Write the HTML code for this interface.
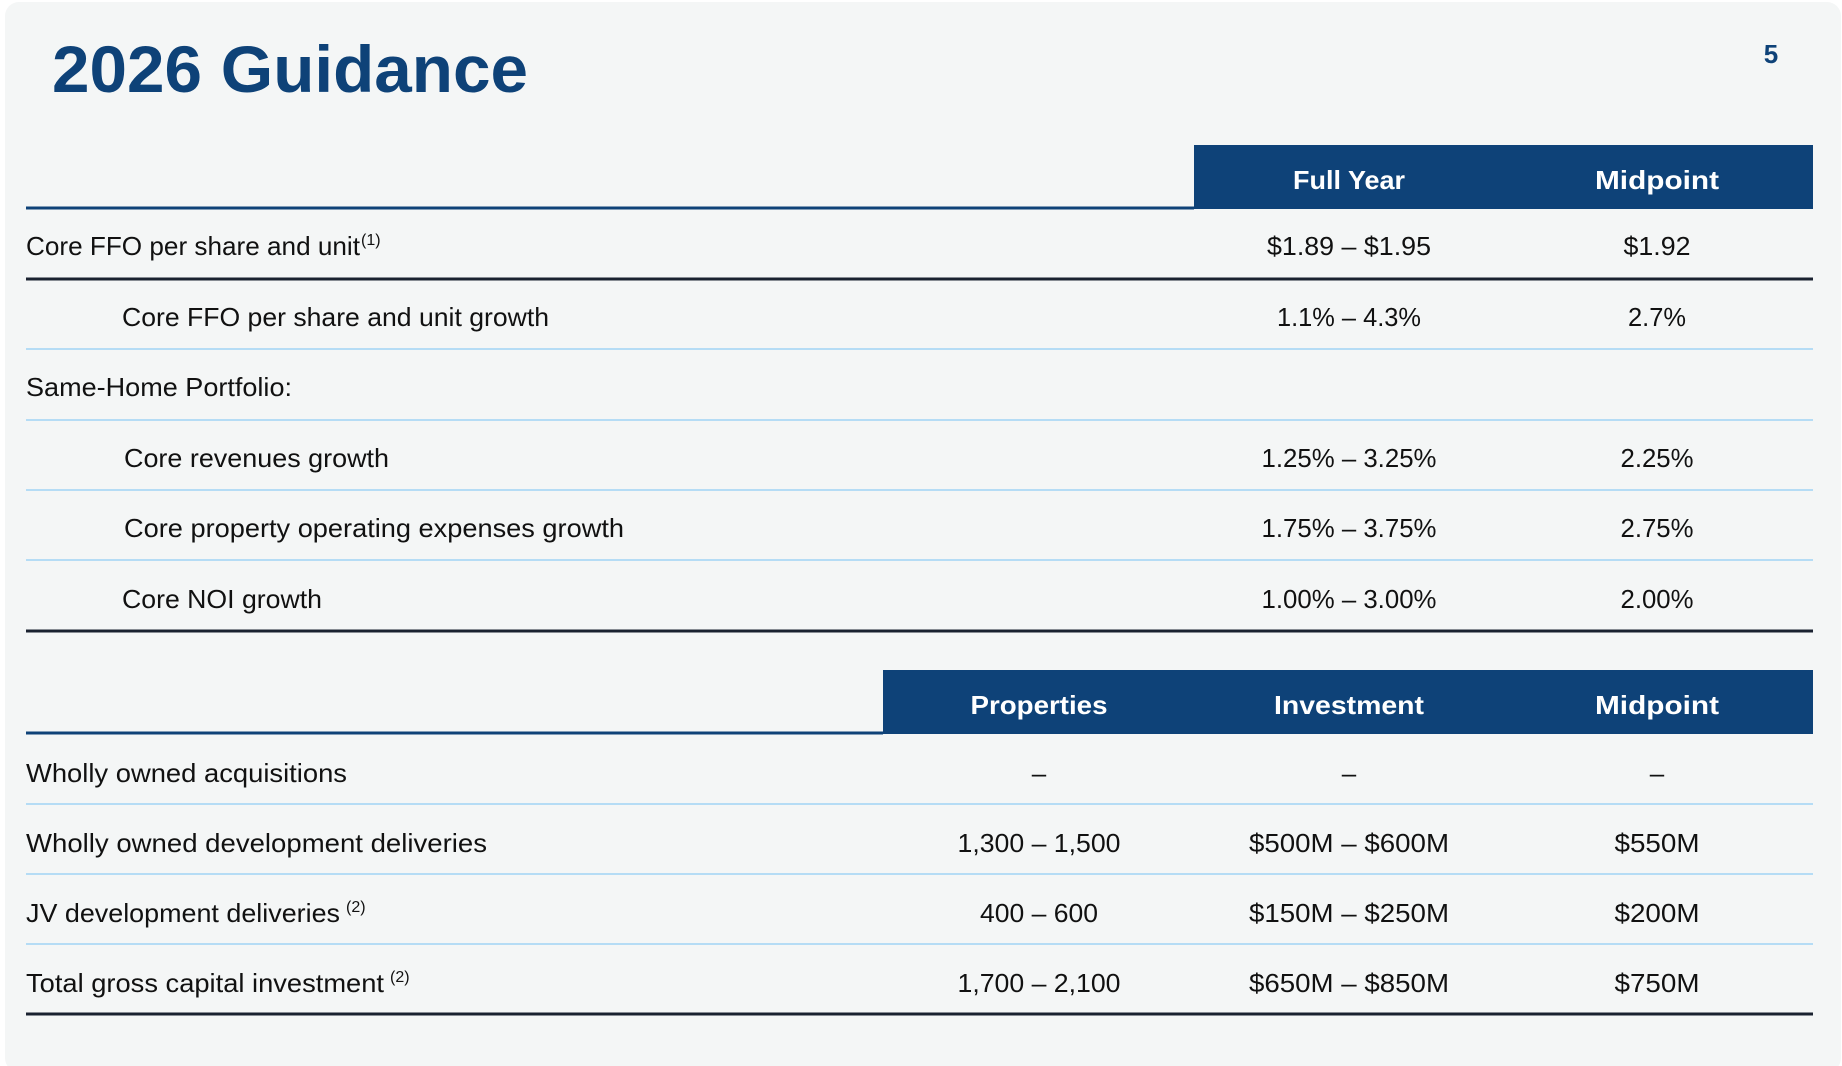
<!DOCTYPE html>
<html><head><meta charset="utf-8"><style>
html,body{margin:0;padding:0;background:#fff;}
svg{display:block;font-family:"Liberation Sans",sans-serif;}
</style></head><body>
<svg width="1842" height="1066" viewBox="0 0 1842 1066">
<rect x="5" y="2" width="1836" height="1070" rx="14" fill="#f4f6f6"/>
<text x="52" y="92" font-size="66" font-weight="bold" fill="#0e4278" textLength="476" lengthAdjust="spacingAndGlyphs">2026 Guidance</text>
<text x="1771" y="63" font-size="26" font-weight="bold" fill="#0e4278" text-anchor="middle">5</text>

<g>
<rect x="1194" y="145" width="619" height="64" fill="#0e4278"/>
<text x="1349" y="189" font-size="26" font-weight="bold" fill="#fff" text-anchor="middle" textLength="112" lengthAdjust="spacingAndGlyphs">Full Year</text>
<text x="1657" y="189" font-size="26" font-weight="bold" fill="#fff" text-anchor="middle" textLength="124" lengthAdjust="spacingAndGlyphs">Midpoint</text>
<line x1="26" y1="208" x2="1194" y2="208" stroke="#0e4278" stroke-width="3"/>
<line x1="26" y1="279" x2="1813" y2="279" stroke="#1a2230" stroke-width="3"/>
<line x1="26" y1="349" x2="1813" y2="349" stroke="#b5dcf5" stroke-width="2"/>
<line x1="26" y1="420" x2="1813" y2="420" stroke="#b5dcf5" stroke-width="2"/>
<line x1="26" y1="490" x2="1813" y2="490" stroke="#b5dcf5" stroke-width="2"/>
<line x1="26" y1="560" x2="1813" y2="560" stroke="#b5dcf5" stroke-width="2"/>
<line x1="26" y1="631" x2="1813" y2="631" stroke="#1a2230" stroke-width="3"/>
<g font-size="26" fill="#111">
<text x="26" y="255" textLength="334" lengthAdjust="spacingAndGlyphs">Core FFO per share and unit</text>
<text x="361" y="245" font-size="16">(1)</text>
<text x="122" y="326" textLength="427" lengthAdjust="spacingAndGlyphs">Core FFO per share and unit growth</text>
<text x="26" y="396" textLength="266" lengthAdjust="spacingAndGlyphs">Same-Home Portfolio:</text>
<text x="124" y="467" textLength="265" lengthAdjust="spacingAndGlyphs">Core revenues growth</text>
<text x="124" y="537" textLength="500" lengthAdjust="spacingAndGlyphs">Core property operating expenses growth</text>
<text x="122" y="608" textLength="200" lengthAdjust="spacingAndGlyphs">Core NOI growth</text>
<g text-anchor="middle">
<text x="1349" y="255" textLength="164" lengthAdjust="spacingAndGlyphs">$1.89 – $1.95</text>
<text x="1657" y="255" textLength="67" lengthAdjust="spacingAndGlyphs">$1.92</text>
<text x="1349" y="326" textLength="144" lengthAdjust="spacingAndGlyphs">1.1% – 4.3%</text>
<text x="1657" y="326" textLength="58" lengthAdjust="spacingAndGlyphs">2.7%</text>
<text x="1349" y="467" textLength="175" lengthAdjust="spacingAndGlyphs">1.25% – 3.25%</text>
<text x="1657" y="467" textLength="73" lengthAdjust="spacingAndGlyphs">2.25%</text>
<text x="1349" y="537" textLength="175" lengthAdjust="spacingAndGlyphs">1.75% – 3.75%</text>
<text x="1657" y="537" textLength="73" lengthAdjust="spacingAndGlyphs">2.75%</text>
<text x="1349" y="608" textLength="175" lengthAdjust="spacingAndGlyphs">1.00% – 3.00%</text>
<text x="1657" y="608" textLength="73" lengthAdjust="spacingAndGlyphs">2.00%</text>
</g></g></g>

<g>
<rect x="883" y="670" width="930" height="64" fill="#0e4278"/>
<text x="1039" y="714" font-size="26" font-weight="bold" fill="#fff" text-anchor="middle" textLength="137" lengthAdjust="spacingAndGlyphs">Properties</text>
<text x="1349" y="714" font-size="26" font-weight="bold" fill="#fff" text-anchor="middle" textLength="150" lengthAdjust="spacingAndGlyphs">Investment</text>
<text x="1657" y="714" font-size="26" font-weight="bold" fill="#fff" text-anchor="middle" textLength="124" lengthAdjust="spacingAndGlyphs">Midpoint</text>
<line x1="26" y1="733" x2="883" y2="733" stroke="#0e4278" stroke-width="3"/>
<line x1="26" y1="804" x2="1813" y2="804" stroke="#b5dcf5" stroke-width="2"/>
<line x1="26" y1="874" x2="1813" y2="874" stroke="#b5dcf5" stroke-width="2"/>
<line x1="26" y1="944" x2="1813" y2="944" stroke="#b5dcf5" stroke-width="2"/>
<line x1="26" y1="1014" x2="1813" y2="1014" stroke="#1a2230" stroke-width="3"/>
<g font-size="26" fill="#111">
<text x="26" y="782" textLength="321" lengthAdjust="spacingAndGlyphs">Wholly owned acquisitions</text>
<text x="26" y="852" textLength="461" lengthAdjust="spacingAndGlyphs">Wholly owned development deliveries</text>
<text x="26" y="922" textLength="314" lengthAdjust="spacingAndGlyphs">JV development deliveries</text>
<text x="346" y="912" font-size="16">(2)</text>
<text x="26" y="992" textLength="358" lengthAdjust="spacingAndGlyphs">Total gross capital investment</text>
<text x="390" y="982" font-size="16">(2)</text>
<g text-anchor="middle">
<text x="1039" y="782">–</text>
<text x="1349" y="782">–</text>
<text x="1657" y="782">–</text>
<text x="1039" y="852" textLength="163" lengthAdjust="spacingAndGlyphs">1,300 – 1,500</text>
<text x="1349" y="852" textLength="200" lengthAdjust="spacingAndGlyphs">$500M – $600M</text>
<text x="1657" y="852" textLength="85" lengthAdjust="spacingAndGlyphs">$550M</text>
<text x="1039" y="922" textLength="118" lengthAdjust="spacingAndGlyphs">400 – 600</text>
<text x="1349" y="922" textLength="200" lengthAdjust="spacingAndGlyphs">$150M – $250M</text>
<text x="1657" y="922" textLength="85" lengthAdjust="spacingAndGlyphs">$200M</text>
<text x="1039" y="992" textLength="163" lengthAdjust="spacingAndGlyphs">1,700 – 2,100</text>
<text x="1349" y="992" textLength="200" lengthAdjust="spacingAndGlyphs">$650M – $850M</text>
<text x="1657" y="992" textLength="85" lengthAdjust="spacingAndGlyphs">$750M</text>
</g></g></g>
</svg>
</body></html>
